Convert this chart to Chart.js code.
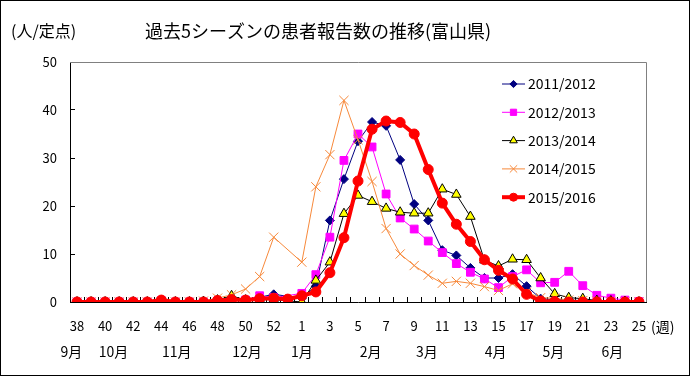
<!DOCTYPE html>
<html>
<head>
<meta charset="utf-8">
<script src="https://cdn.jsdelivr.net/npm/chart.js@4.4.0/dist/chart.umd.min.js"></script>
<style>
  html, body { margin: 0; padding: 0; background: #fff; }
  #wrap { width: 690px; height: 376px; }
</style>
</head>
<body>
<div id="wrap"><canvas id="chart" width="690" height="376"></canvas></div>
<script>
// Week numbers, 38 of one year to 25 of the next (week 53 only exists in 2015)
const weeks = ['38','39','40','41','42','43','44','45','46','47','48','49','50','51','52','53',
  '1','2','3','4','5','6','7','8','9','10','11','12','13','14','15','16','17','18','19','20','21','22','23','24','25'];

const seasons = ['2011/2012', '2012/2013', '2013/2014', '2014/2015', '2015/2016'];

// reports per sentinel site
const s2011 = [0,0,0,0,0,0,0.1,0,0,0.1, 0.2,0.3,0.5,1.0,1.6,null,
  0.8,3.3,17,25.6,33.5,37.5,36.7,29.6,20.4,17,10.8,9.7,7.1,5,5,5.8,3.3,0.7,0.5,0.4,0.3,0.2,0.1,0.1,0];
const s2012 = [0,0,0,0,0,0,0.3,0,0,0, 0.2,0.3,0.4,1.3,0.9,null,
  1.8,5.7,13.5,29.5,35,32.3,22.5,17.5,15.2,12.7,10.3,8,6.2,4.8,3,5.3,6.7,4,4.1,6.4,3.4,1.4,0.8,0.4,0.1];
const s2013 = [0,0,0,0,0,0,0,0,0,0.1, 0.4,1.3,0.4,0.5,0.5,null,
  0,4.5,8.3,18.4,22.2,20.9,19.5,18.7,18.5,18.5,23.5,22.4,17.8,8.7,7.5,8.9,8.8,5,1.7,0.9,0.7,0.3,0.2,0.1,0];
const s2014 = [0,0,0,0,0,0,0,0,0,0.2, 0.8,1.5,2.7,5.3,13.5,null,
  8.3,24,30.7,42,33.8,25.1,15.3,10,7.6,5.6,3.9,4.3,3.9,3.2,2.4,3.8,2,0.9,0.8,0.4,0.3,0.2,0.1,0,0];
const s2015 = [0,0,0,0,0,0,0.4,0,0,0, 0.3,0.5,0.4,0.7,0.8,0.6,
  1.3,2.1,6.1,13.4,25.2,36,37.7,37.4,35,27.6,20.6,16.2,12.6,8.8,6.6,4.8,1.6,0.2,0.1,0,0,0,0,0,0];

// month captions under the week axis, placed at a week index
const monthLabels = ['9月','10月','11月','12月','1月','2月','3月','4月','5月','6月'];
const monthWeekPos = [-0.4, 2.6, 7.1, 12.1, 16, 20.9, 24.9, 29.8, 33.9, 38.1];

const FONT = '"Noto Sans CJK JP", "Noto Sans", sans-serif';

const decor = {
  id: 'decor',
  beforeDraw(chart) {
    const ctx = chart.ctx;
    ctx.save();
    ctx.fillStyle = '#fff';
    ctx.fillRect(0, 0, chart.width, chart.height);
    ctx.restore();
  },
  afterDraw(chart) {
    const ctx = chart.ctx;
    const a = chart.chartArea;
    const x = chart.scales.x;
    ctx.save();

    // grey frame on top and right of the plot
    ctx.strokeStyle = '#808080';
    ctx.lineWidth = 1;
    ctx.beginPath();
    ctx.moveTo(a.left, a.top + 0.5);
    ctx.lineTo(a.right + 0.5, a.top + 0.5);
    ctx.lineTo(a.right + 0.5, a.bottom);
    ctx.stroke();

    // outer border
    ctx.strokeStyle = '#000';
    ctx.strokeRect(0.5, 0.5, chart.width - 1, chart.height - 1);

    // texts
    ctx.fillStyle = '#000';
    ctx.textBaseline = 'middle';
    ctx.textAlign = 'left';
    ctx.font = '18px ' + FONT;
    ctx.fillText('過去5シーズンの患者報告数の推移(富山県)', 145, 31);
    ctx.font = '16px ' + FONT;
    ctx.fillText('(人/定点)', 11, 31);
    ctx.font = '14px ' + FONT;
    ctx.fillText('(週)', a.right + 5, 327);
    ctx.textAlign = 'center';
    monthLabels.forEach((m, i) => {
      ctx.fillText(m, x.getPixelForValue(monthWeekPos[i]), 352);
    });

    // legend inside the plot
    const lx = a.right - 144;
    const ly0 = a.top + 22;
    chart.data.datasets.forEach((ds, i) => {
      const y = ly0 + i * 28.3;
      ctx.strokeStyle = ds.borderColor;
      ctx.lineWidth = ds.borderWidth;
      ctx.beginPath();
      ctx.moveTo(lx, y);
      ctx.lineTo(lx + 23, y);
      ctx.stroke();
      ctx.fillStyle = ds.pointBackgroundColor;
      ctx.strokeStyle = ds.pointBorderColor;
      ctx.lineWidth = 1;
      Chart.helpers.drawPoint(ctx, {
        pointStyle: ds.pointStyle, radius: ds.pointRadius * 0.8, borderWidth: 1, rotation: 0
      }, lx + 11.5, y);
      ctx.fillStyle = '#000';
      ctx.textAlign = 'left';
      ctx.font = '14px ' + FONT;
      ctx.fillText(ds.label, lx + 26, y);
    });

    ctx.restore();
  }
};

new Chart(document.getElementById('chart'), {
  type: 'line',
  data: {
    labels: weeks,
    datasets: [
      {
        label: seasons[0], data: s2011, order: 5, spanGaps: true,
        borderColor: '#000080', borderWidth: 1,
        pointStyle: 'rectRot', pointRadius: 4.5,
        pointBackgroundColor: '#000080', pointBorderColor: '#000080', pointBorderWidth: 1
      },
      {
        label: seasons[1], data: s2012, order: 4, spanGaps: true,
        borderColor: '#FF00FF', borderWidth: 1,
        pointStyle: 'rect', pointRadius: 5.5,
        pointBackgroundColor: '#FF00FF', pointBorderColor: '#FF00FF', pointBorderWidth: 1
      },
      {
        label: seasons[2], data: s2013, order: 3, spanGaps: true,
        borderColor: '#000000', borderWidth: 1,
        pointStyle: 'triangle', pointRadius: 5.5,
        pointBackgroundColor: '#FFFF00', pointBorderColor: '#000000', pointBorderWidth: 1
      },
      {
        label: seasons[3], data: s2014, order: 2, spanGaps: true,
        borderColor: '#F7893B', borderWidth: 1,
        pointStyle: 'crossRot', pointRadius: 6.5,
        pointBackgroundColor: '#F7893B', pointBorderColor: '#F7893B', pointBorderWidth: 1
      },
      {
        label: seasons[4], data: s2015, order: 1,
        borderColor: '#FF0000', borderWidth: 4,
        pointStyle: 'circle', pointRadius: 5,
        pointBackgroundColor: '#FF0000', pointBorderColor: '#FF0000', pointBorderWidth: 1
      }
    ]
  },
  options: {
    responsive: false,
    animation: false,
    layout: { padding: { top: 62, right: 44, left: 0, bottom: 0 } },
    plugins: {
      legend: { display: false },
      tooltip: { enabled: false }
    },
    scales: {
      x: {
        offset: true,
        grid: { offset: true, drawOnChartArea: false, tickLength: -5, color: '#000' },
        border: { color: '#000' },
        ticks: {
          autoSkip: false, maxRotation: 0, padding: 21, color: '#000',
          font: { family: FONT, size: 13 },
          callback: (v, i) => (i % 2 === 0 ? weeks[i] : '')
        },
        afterFit: s => { s.height = 74; }
      },
      y: {
        min: 0, max: 50,
        grid: { drawOnChartArea: false, tickLength: -5, color: '#000' },
        border: { color: '#000' },
        ticks: { stepSize: 10, padding: 18, color: '#000', font: { family: FONT, size: 13 } },
        afterFit: s => { s.width = 70; }
      }
    }
  },
  plugins: [decor]
});
</script>
</body>
</html>
